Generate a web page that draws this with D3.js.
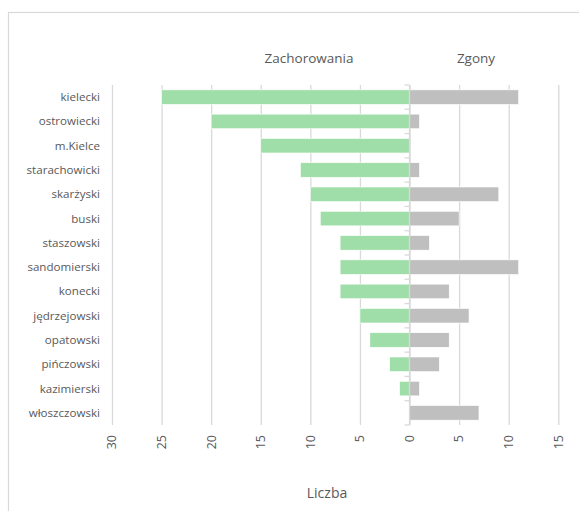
<!DOCTYPE html>
<html>
<head>
<meta charset="utf-8">
<script src="https://cdn.jsdelivr.net/npm/d3@7"></script>
<style>
  html, body { margin: 0; padding: 0; background: #fff; }
  svg { display: block; }
  text { font-family: "Open Sans", "Noto Sans", sans-serif; fill: #595959; }
</style>
</head>
<body>
<svg id="chart" width="579" height="511"></svg>
<script>
const categories = ["kielecki", "ostrowiecki", "m.Kielce", "starachowicki", "skarżyski", "buski", "staszowski", "sandomierski", "konecki", "jędrzejowski", "opatowski", "pińczowski", "kazimierski", "włoszczowski"];
const zachorowania = [25, 20, 15, 11, 10, 9, 7, 7, 7, 5, 4, 2, 1, 0];
const zgony = [11, 1, 0, 1, 9, 5, 2, 11, 4, 6, 4, 3, 1, 7];
const tickValues = [-30, -25, -20, -15, -10, -5, 0, 5, 10, 15];
const seriesNames = ["Zachorowania", "Zgony"];
const axisTitle = "Liczba";

const svg = d3.select("#chart");
const plot = { left: 112, right: 558.3, top: 85, bottom: 425 };

// outer chart border (extends past the image on the right and bottom)
svg.append("rect")
  .attr("x", 8.5).attr("y", 12.5)
  .attr("width", 700).attr("height", 700)
  .attr("fill", "none").attr("stroke", "#d9d9d9").attr("stroke-width", 1.2);

const x = d3.scaleLinear().domain([-30, 15]).range([plot.left, plot.right]);
const y = d3.scaleBand().domain(categories).range([plot.top, plot.bottom])
  .paddingInner(0.4).paddingOuter(0.2);

// gridlines
const gridAxis = d3.axisBottom(x).tickValues(tickValues)
  .tickSize(plot.bottom - plot.top).tickFormat("");
const grid = svg.append("g").attr("transform", `translate(0,${plot.top})`).call(gridAxis);
grid.select(".domain").remove();
grid.selectAll(".tick line").attr("stroke", "#d9d9d9").attr("stroke-width", 1.3);

// bars
svg.append("g").selectAll("rect")
  .data(categories.map((c, i) => ({ c, v: zachorowania[i] })))
  .join("rect")
  .attr("x", d => x(-d.v))
  .attr("y", d => y(d.c))
  .attr("width", d => x(0) - x(-d.v))
  .attr("height", y.bandwidth())
  .attr("fill", "#a0dea9")
  .attr("stroke", "#ffffff").attr("stroke-width", 0.6);

svg.append("g").selectAll("rect")
  .data(categories.map((c, i) => ({ c, v: zgony[i] })))
  .join("rect")
  .attr("x", x(0))
  .attr("y", d => y(d.c))
  .attr("width", d => x(d.v) - x(0))
  .attr("height", y.bandwidth())
  .attr("fill", "#bfbfbf")
  .attr("stroke", "#ffffff").attr("stroke-width", 0.6);

// category axis at zero
const x0 = x(0);
const catAxis = svg.append("g");
catAxis.append("line")
  .attr("x1", x0).attr("x2", x0)
  .attr("y1", plot.top).attr("y2", plot.bottom)
  .attr("stroke", "#d9d9d9").attr("stroke-width", 1.3);
const bounds = categories.map(c => y(c) - y.step() * y.paddingInner() / 2);
bounds.push(plot.bottom);
bounds[0] = plot.top;
catAxis.selectAll("line.t").data(bounds).join("line")
  .attr("class", "t")
  .attr("x1", x0 - 5).attr("x2", x0)
  .attr("y1", d => d).attr("y2", d => d)
  .attr("stroke", "#d9d9d9").attr("stroke-width", 1.3);

// category labels
svg.append("g").selectAll("text")
  .data(categories).join("text")
  .attr("x", 100)
  .attr("y", d => y(d) + y.bandwidth() / 2)
  .attr("dy", "0.35em")
  .attr("text-anchor", "end")
  .attr("font-size", 11.6)
  .text(d => d);

// value tick labels (rotated)
svg.append("g").selectAll("text")
  .data(tickValues).join("text")
  .attr("transform", d => `translate(${x(d)},435) rotate(-90)`)
  .attr("text-anchor", "end")
  .attr("dy", "0.35em")
  .attr("font-size", 12.5)
  .text(d => Math.abs(d));

// series headers
svg.append("text").attr("x", 309).attr("y", 58).attr("dy", "0.35em")
  .attr("text-anchor", "middle").attr("font-size", 13.5).text(seriesNames[0]);
svg.append("text").attr("x", 476).attr("y", 58).attr("dy", "0.35em")
  .attr("text-anchor", "middle").attr("font-size", 13.5).text(seriesNames[1]);

// axis title
svg.append("text").attr("x", 327).attr("y", 493).attr("dy", "0.35em")
  .attr("text-anchor", "middle").attr("font-size", 14).text(axisTitle);
</script>
</body>
</html>
